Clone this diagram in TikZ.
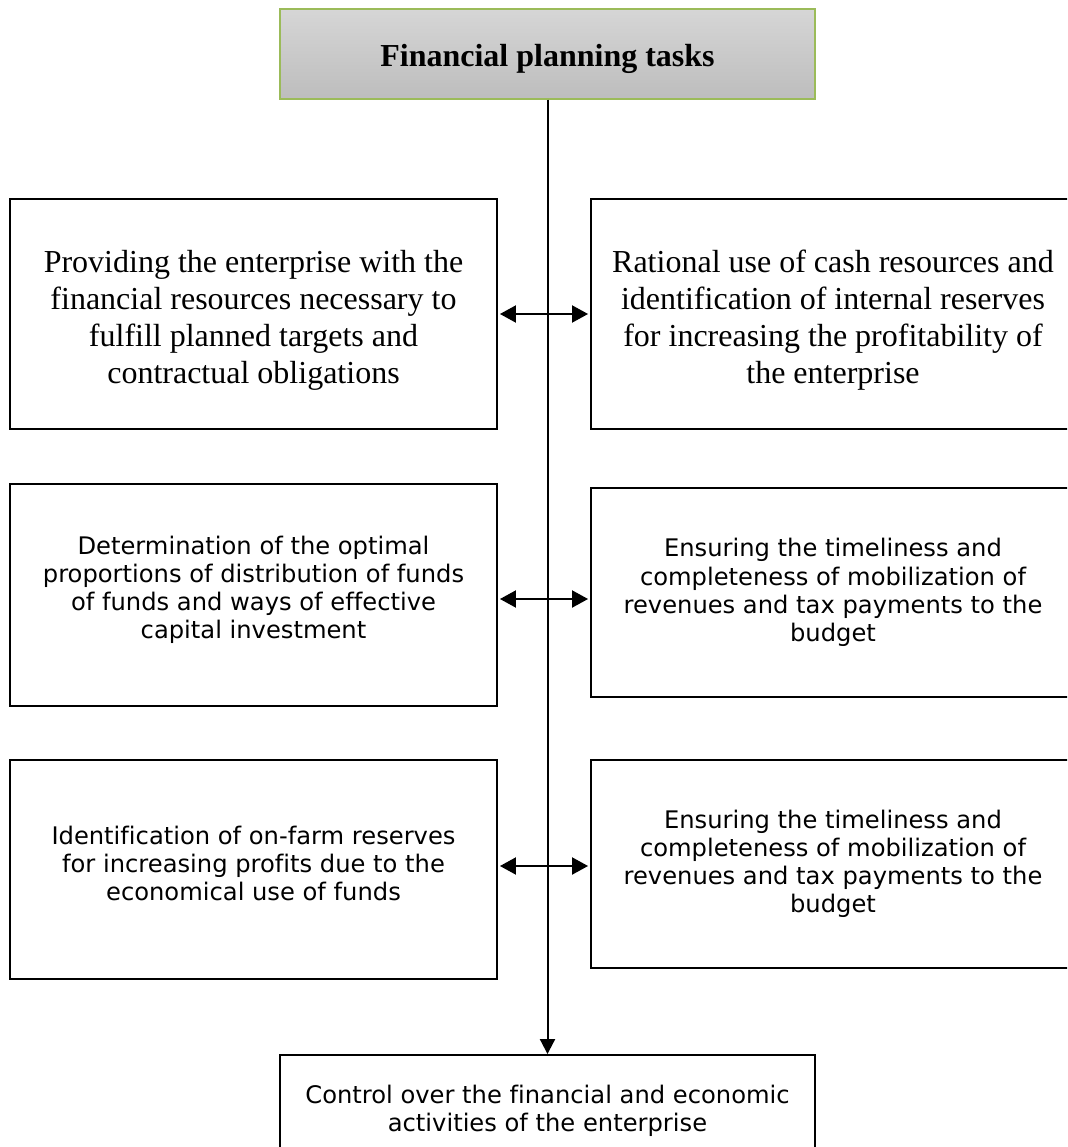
\documentclass[tikz,border=0pt]{standalone}
\usepackage{fontspec}
\setmainfont[Ligatures=NoCommon]{Liberation Serif}
\newfontfamily\verdfont[Ligatures=NoCommon]{DejaVu Sans}
\usetikzlibrary{arrows.meta}

\definecolor{headgreen}{RGB}{155,187,89}
\definecolor{headtop}{RGB}{214,214,214}
\definecolor{headbot}{RGB}{189,189,189}

\begin{document}
\begin{tikzpicture}[
        x=1pt, y=-1pt,
        taskbox/.style={draw, line width=1.9pt, inner sep=0pt, minimum width=487pt},
        serif/.style={align=center, inner sep=0pt, font=\fontsize{32}{37}\selectfont},
        sans/.style={align=center, inner sep=0pt, font=\verdfont\fontsize{24.2}{28.2}\selectfont},
        headbox/.style={draw=headgreen, line width=1.5pt, top color=headtop, bottom color=headbot,
            minimum width=535pt, minimum height=90pt},
        link/.style={line width=2pt, shorten <=2pt, shorten >=2pt,
            {Triangle[length=16pt,width=17pt]}-{Triangle[length=16pt,width=17pt]}},
        spine/.style={line width=2pt, -{Triangle[length=15pt,width=15pt]}},
    ]
    \useasboundingbox (0,0) rectangle (1067,1147);
    \clip (0,0) rectangle (1067,1147);

    \node[headbox](head) at (547.5,54) {};
    \node[serif, font=\bfseries\fontsize{32}{37}\selectfont](headtext) at ([yshift=-5pt]head.center) {Financial planning tasks};

    % first row
    \node[taskbox, minimum height=230pt](l1) at (253.5,314) {};
    \node[serif](l1text) at ([yshift=-6pt]l1.center)
        {Providing the enterprise with the\\financial resources necessary to\\fulfill planned targets and\\contractual obligations};
    \node[taskbox, minimum width=484pt, minimum height=230pt](r1) at (833,314) {};
    \node[serif](r1text) at ([yshift=-6pt]r1.center)
        {Rational use of cash resources and\\identification of internal reserves\\for increasing the profitability of\\the enterprise};

    % second row
    \node[taskbox, minimum height=222pt](l2) at (253.5,595) {};
    \node[sans](l2text) at ([yshift=5pt]l2.center)
        {Determination of the optimal\\proportions of distribution of funds\\of funds and ways of effective\\capital investment};
    \node[taskbox, minimum width=484pt, minimum height=209pt](r2) at (833,592.5) {};
    \node[sans](r2text) at (r2.center)
        {Ensuring the timeliness and\\completeness of mobilization of\\revenues and tax payments to the\\budget};

    % third row
    \node[taskbox, minimum height=219pt](l3) at (253.5,869.5) {};
    \node[sans](l3text) at ([yshift=6pt]l3.center)
        {Identification of on-farm reserves\\for increasing profits due to the\\economical use of funds};
    \node[taskbox, minimum width=484pt, minimum height=208pt](r3) at (833,864) {};
    \node[sans](r3text) at (r3.center)
        {Ensuring the timeliness and\\completeness of mobilization of\\revenues and tax payments to the\\budget};

    % last task, under the spine
    \node[taskbox, minimum width=535pt, minimum height=110pt](ctrl) at (547.5,1110) {};
    \node[sans](ctrltext) at ([yshift=-1pt]ctrl.center)
        {Control over the financial and economic\\activities of the enterprise};

    \draw[spine] (head) -- (ctrl);

    \coordinate (row1) at (547.5,314);
    \coordinate (row2) at (547.5,599);
    \coordinate (row3) at (547.5,866);
    \draw[link] (row1 -| l1.east) -- (row1 -| r1.west);
    \draw[link] (row2 -| l2.east) -- (row2 -| r2.west);
    \draw[link] (row3 -| l3.east) -- (row3 -| r3.west);
\end{tikzpicture}
\end{document}
